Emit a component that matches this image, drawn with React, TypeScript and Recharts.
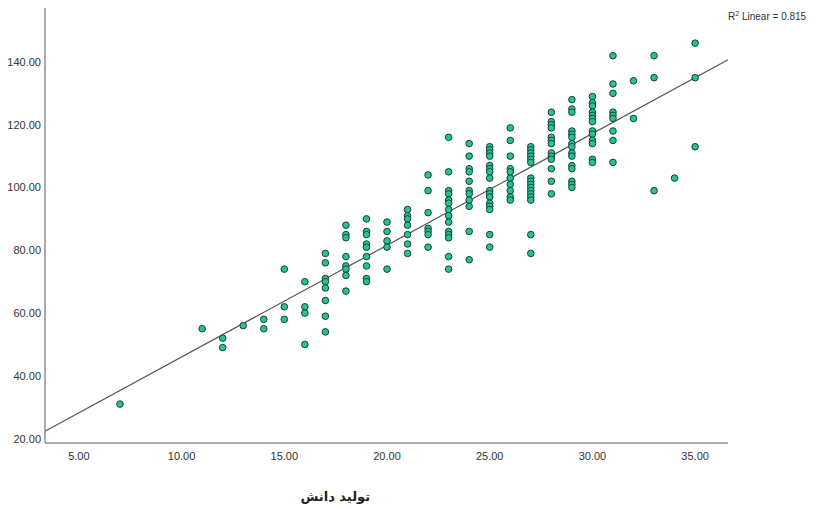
import React from 'react';
import { ScatterChart, Scatter, XAxis, YAxis, ReferenceLine } from 'recharts';

// knowledge production (x) values, each with its list of observed y values
const knowledgeLevels = [7, 11, 12, 13, 14, 15, 16, 17, 18, 19, 20, 21, 22, 23, 24, 25, 26, 27, 28, 29, 30, 31, 32, 33, 34, 35];
const outcomeByLevel = [
  [31],
  [55],
  [52, 49],
  [56],
  [58, 55],
  [74, 62, 58],
  [70, 62, 60, 50],
  [79, 76, 71, 70, 68, 64, 59, 54],
  [88, 85, 84, 78, 75, 74, 72, 67],
  [90, 86, 85, 82, 81, 78, 75, 71, 70],
  [89, 86, 83, 81, 74],
  [93, 91, 90, 88, 85, 82, 79],
  [104, 99, 92, 87, 86, 85, 81],
  [116, 105, 99, 98, 96, 95, 93, 91, 89, 86, 85, 84, 78, 74],
  [114, 110, 106, 105, 102, 99, 98, 96, 94, 86, 77],
  [113, 112, 111, 110, 107, 106, 105, 103, 99, 98, 97, 95, 94, 93, 85, 81],
  [119, 115, 110, 106, 105, 103, 101, 99, 97, 96],
  [113, 112, 111, 110, 109, 108, 103, 102, 101, 100, 99, 98, 97, 96, 85, 79],
  [124, 121, 120, 119, 116, 115, 114, 111, 110, 109, 106, 102, 98],
  [128, 125, 124, 118, 117, 116, 114, 113, 111, 110, 107, 106, 102, 101, 100],
  [129, 127, 126, 124, 123, 122, 121, 118, 117, 115, 114, 109, 108],
  [142, 133, 130, 124, 123, 122, 118, 115, 108],
  [134, 122],
  [142, 135, 99],
  [103],
  [146, 135, 113],
];

const xTicks = [5, 10, 15, 20, 25, 30, 35];
const yTicks = [20, 40, 60, 80, 100, 120, 140];
const xDomain = [3.35, 36.6];
const yDomain = [18.6, 157.2];

// fitted linear regression (R² = 0.815)
const fitIntercept = 10.4;
const fitSlope = 3.56;
const rSquared = 0.815;
const xAxisTitle = 'تولید دانش';

const points = knowledgeLevels.flatMap((x, i) => outcomeByLevel[i].map((y) => ({ x, y })));

const Dot = (props: any) => {
  const { cx, cy } = props;
  if (cx == null || cy == null) return null;
  return <circle cx={cx} cy={cy} r={3.3} fill="#22c495" stroke="#1b3f35" strokeWidth={1} />;
};

const fmt = (v: number) => v.toFixed(2);

export default function App() {
  const font = '"Liberation Sans", Arial, sans-serif';
  return (
    <div style={{ position: 'absolute', left: 0, top: 0, width: 816, height: 509, background: '#fff', fontFamily: font }}>
      <ScatterChart width={816} height={509} margin={{ top: 8, right: 88, bottom: 36, left: 0 }}>
        <XAxis
          type="number"
          dataKey="x"
          domain={xDomain}
          ticks={xTicks}
          allowDataOverflow
          tickFormatter={fmt}
          tickLine={false}
          tickSize={0}
          tickMargin={9}
          height={30}
          axisLine={{ stroke: '#8f8f8f', strokeWidth: 1.5 }}
          tick={{ fill: '#333', fontSize: 11, fontFamily: font }}
          label={{
            content: (p: any) => {
              const vb = p.viewBox;
              return (
                <text
                  x={vb.x + vb.width * 0.425}
                  y={vb.y + 58}
                  textAnchor="middle"
                  fontSize={13}
                  fontWeight="bold"
                  fill="#222"
                  fontFamily='"DejaVu Sans", "Noto Sans", sans-serif'
                  direction="rtl"
                >
                  {xAxisTitle}
                </text>
              );
            },
          }}
        />
        <YAxis
          type="number"
          dataKey="y"
          domain={yDomain}
          ticks={yTicks}
          allowDataOverflow
          tickFormatter={fmt}
          tickLine={false}
          tickSize={0}
          tickMargin={4}
          width={45}
          axisLine={{ stroke: '#8f8f8f', strokeWidth: 1.5 }}
          tick={{ fill: '#333', fontSize: 11, fontFamily: font }}
        />
        <ReferenceLine
          segment={[
            { x: xDomain[0], y: fitIntercept + fitSlope * xDomain[0] },
            { x: xDomain[1], y: fitIntercept + fitSlope * xDomain[1] },
          ]}
          stroke="#555"
          strokeWidth={1.2}
          ifOverflow="visible"
        />
        <Scatter data={points} shape={<Dot />} isAnimationActive={false} />
      </ScatterChart>
      <div style={{ position: 'absolute', left: 728, top: 10, fontSize: 10, color: '#333', whiteSpace: 'nowrap', fontFamily: font }}>
        R<sup style={{ fontSize: 7 }}>2</sup> Linear = {rSquared}
      </div>
    </div>
  );
}
